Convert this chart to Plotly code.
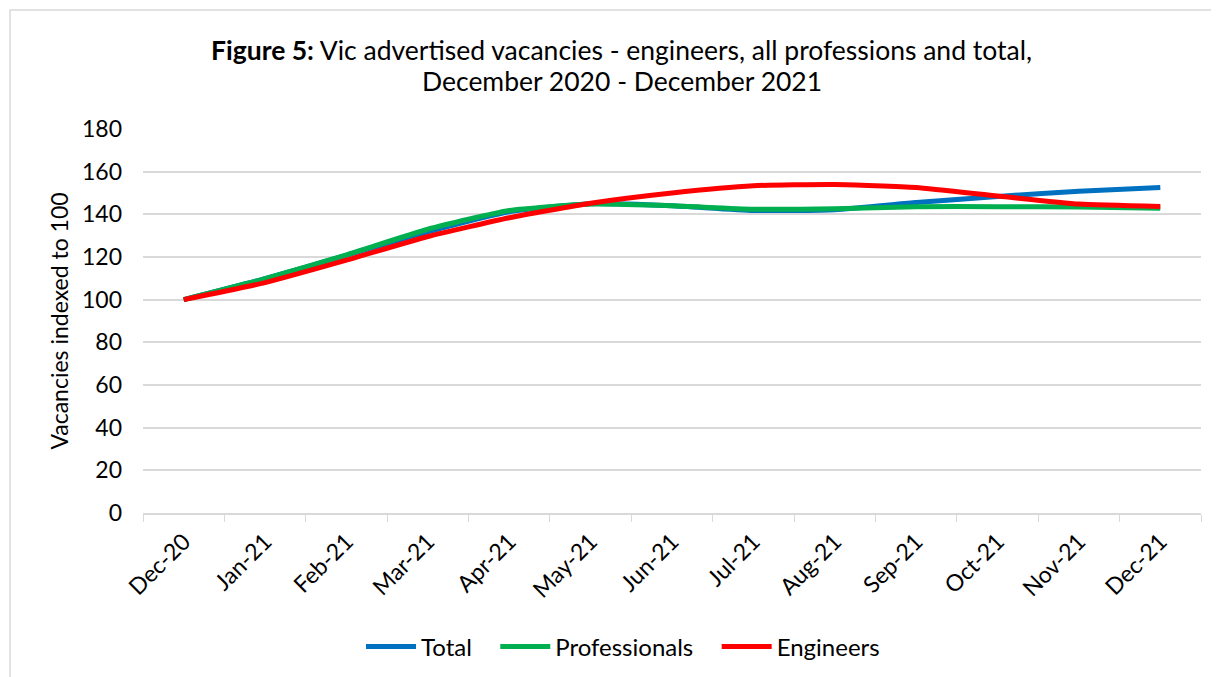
import plotly.graph_objects as go

months = ["Dec-20", "Jan-21", "Feb-21", "Mar-21", "Apr-21", "May-21", "Jun-21",
          "Jul-21", "Aug-21", "Sep-21", "Oct-21", "Nov-21", "Dec-21"]
total = [100, 109.8, 120.8, 131.8, 141.2, 145.0, 144.0, 141.8, 142.2, 145.5, 148.4, 150.8, 152.6]
professionals = [100, 109.8, 121.0, 133.0, 141.8, 144.8, 144.0, 142.4, 142.6, 143.6, 143.6, 143.4, 142.9]
engineers = [100, 108.0, 118.5, 129.6, 138.4, 145.2, 150.0, 153.4, 154.0, 152.6, 148.6, 144.8, 143.7]
yticks = [0, 20, 40, 60, 80, 100, 120, 140, 160, 180]

FONT = "Lato, Calibri, Carlito, sans-serif"
OFF = 8  # page body margin
PAD = "\u00a0" * 3

fig = go.Figure()
for name, vals, col in [("Total" + PAD, total, "#0070C0"),
                        ("Professionals" + PAD, professionals, "#00B050"),
                        ("Engineers", engineers, "#FF0000")]:
    fig.add_trace(go.Scatter(x=months, y=vals, name=name, mode="lines",
                             line=dict(color=col, width=5, shape="spline", smoothing=0.5)))

W, H = 1219, 677
L, T = 143 - OFF, 129 - OFF
R = W - (1201 - OFF)
B = H - (513 - OFF)
pw = W - L - R
ph = H - T - B

def px_x(p):
    return (p - OFF - L) / pw

def px_y(p):
    return 1 - (p - OFF - T) / ph

fig.update_layout(
    width=W, height=H,
    margin=dict(l=L, r=R, t=T, b=B, autoexpand=False),
    paper_bgcolor="white", plot_bgcolor="white",
    font=dict(family=FONT, color="#000000", size=23),
    xaxis=dict(
        type="category", categoryorder="array", categoryarray=months,
        tickangle=-45, tickson="boundaries", ticks="outside", ticklen=7,
        tickcolor="#d9d9d9", showline=True, linecolor="#d9d9d9", linewidth=2,
        showgrid=False, tickfont=dict(size=23), range=[-0.5, 12.5], automargin=False,
        ticklabelstandoff=4,
    ),
    yaxis=dict(
        range=[0, 180], tickvals=yticks, showgrid=True, gridcolor="#d9d9d9",
        gridwidth=1.5, zeroline=False, showline=False, ticks="",
        tickfont=dict(size=23), ticklabelstandoff=20, automargin=False,
        title=dict(text="Vacancies indexed to 100", font=dict(size=23), standoff=6),
    ),
    legend=dict(orientation="h", x=px_x(623), xanchor="center",
                y=px_y(647), yanchor="middle",
                font=dict(size=24), itemwidth=50, tracegroupgap=0),
    showlegend=True,
    annotations=[
        dict(text="<b>Figure 5:</b> Vic advertised vacancies - engineers, all professions and total,",
             xref="paper", yref="paper", x=px_x(621), y=px_y(50), xanchor="center",
             yanchor="middle", showarrow=False, font=dict(size=26.5)),
        dict(text="December 2020 - December 2021",
             xref="paper", yref="paper", x=px_x(622), y=px_y(81), xanchor="center",
             yanchor="middle", showarrow=False, font=dict(size=26.5)),
    ],
)

fig.add_shape(type="rect", xref="paper", yref="paper",
              x0=px_x(10), x1=1.1, y0=-1.0, y1=px_y(10),
              line=dict(color="#d9d9d9", width=1.5), fillcolor="rgba(0,0,0,0)", layer="below")

fig.write_html("out.html")
